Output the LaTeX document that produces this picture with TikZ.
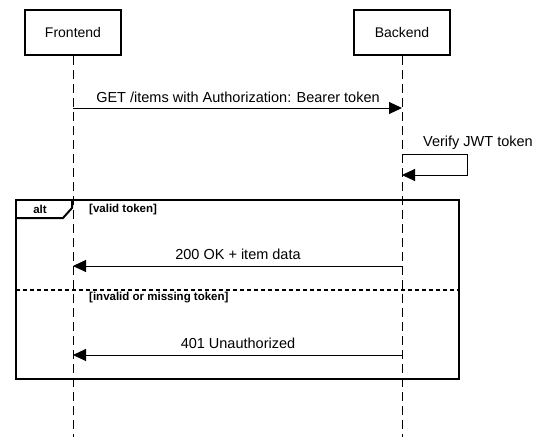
\documentclass[tikz,border=0pt]{standalone}
\usepackage{fontspec}
\setmainfont{Liberation Sans}
\usetikzlibrary{arrows.meta}
\begin{document}
\begin{tikzpicture}[x=1pt,y=-1pt,
  actor/.style={draw,line width=2.5pt,minimum width=96pt,minimum height=45pt,font=\fontsize{14}{16}\selectfont,inner sep=0pt},
  lifeline/.style={line width=1pt,dash pattern=on 9pt off 5pt},
  msg/.style={line width=1pt,-{Triangle[length=13pt,width=12pt]}},
  msglabel/.style={font=\fontsize{14.5}{16}\selectfont,inner sep=0pt},
  fragbox/.style={line width=2.5pt},
  guard/.style={font=\bfseries\fontsize{11.5}{13}\selectfont,inner sep=0pt,anchor=west}]
\useasboundingbox (0,0) rectangle (542,437);
% actors
\node[actor] (fe) at (73,32.5) {Frontend};
\node[actor] (be) at (402,32.5) {Backend};
\coordinate (feend) at (73,437);
\coordinate (beend) at (402,437);
\draw[lifeline] (fe.south) -- (feend);
\draw[lifeline] (be.south) -- (beend);
% message 1
\coordinate (m1a) at (73,108);
\coordinate (m1b) at (402,108);
\draw[msg] (m1a) -- (m1b);
\node[msglabel] (l1) at (238,97) {GET /items with Authorization: Bearer token};
% self message
\coordinate (s1) at (402,154);
\coordinate (s2) at (467,154);
\coordinate (s3) at (467,175);
\coordinate (s4) at (402,175);
\draw[msg] (s1) -- (s2) -- (s3) -- (s4);
\node[msglabel,anchor=west] (l2) at (423,143) {Verify JWT token};
% alt fragment
\draw[fragbox] (16,200) rectangle (459,379);
\draw[line width=2pt] (72,200) -- (72,208) -- (63,218) -- (16,218);
\node[guard,anchor=center] (alt) at (40,209.5) {alt};
\node[guard] (g1) at (89,210) {[valid token]};
\coordinate (m2a) at (402,266);
\coordinate (m2b) at (73,266);
\draw[msg] (m2a) -- (m2b);
\node[msglabel] (l3) at (238,254) {200 OK + item data};
\draw[line width=2pt,dash pattern=on 4pt off 3pt] (16,290) -- (459,290);
\node[guard] (g2) at (89,298) {[invalid or missing token]};
\coordinate (m3a) at (402,355);
\coordinate (m3b) at (73,355);
\draw[msg] (m3a) -- (m3b);
\node[msglabel] (l4) at (238,343) {401 Unauthorized};
\end{tikzpicture}
\end{document}
